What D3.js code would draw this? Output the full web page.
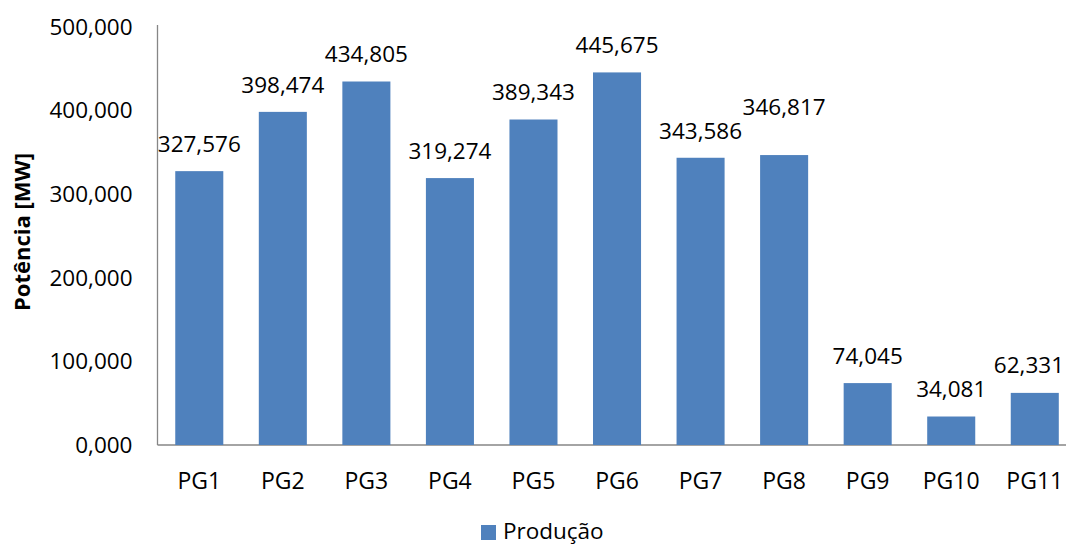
<!DOCTYPE html>
<html><head><meta charset="utf-8">
<script src="https://cdn.jsdelivr.net/npm/d3@7"></script>
<style>body{margin:0;background:#fff;} svg{display:block;font-family:"Open Sans",sans-serif;}</style>
</head><body>
<svg id="c" width="1066" height="547"></svg>
<script>
const categories = ["PG1","PG2","PG3","PG4","PG5","PG6","PG7","PG8","PG9","PG10","PG11"];
const values = [327.576,398.474,434.805,319.274,389.343,445.675,343.586,346.817,74.045,34.081,62.331];
const yTicks = [0,100,200,300,400,500];
const seriesName = "Produção";
const yTitle = "Potência [MW]";

const W = 1066;
const fmt = v => d3.format(".3f")(v).replace(".", ",");
const svg = d3.select("#c");
const left = 157.5, bandStep = 83.55;
const x = d3.scaleBand().domain(categories).range([left, left + bandStep*categories.length]).paddingInner(0.425).paddingOuter(0.2125);
const y = d3.scaleLinear().domain([0,500]).range([445,27]);
const color = "#4F81BD";
const fs = 22.5;

svg.append("line").attr("x1",left).attr("x2",left).attr("y1",y(500)-2).attr("y2",y(0)).attr("stroke","#868686").attr("stroke-width",1.3);
svg.append("line").attr("x1",left).attr("x2",W).attr("y1",y(0)).attr("y2",y(0)).attr("stroke","#868686").attr("stroke-width",1.3);

const yAxis = d3.axisLeft(y).tickValues(yTicks).tickSize(0).tickPadding(0).tickFormat(fmt);
const gy = svg.append("g").attr("transform",`translate(${left-25},0)`).call(yAxis);
gy.select(".domain").remove();
gy.selectAll("text").attr("font-size",fs).attr("fill","#000").attr("font-family","Open Sans");

const xAxis = d3.axisBottom(x).tickSize(0).tickPadding(0);
const gx = svg.append("g").attr("transform",`translate(0,${y(0)+36})`).call(xAxis);
gx.select(".domain").remove();
gx.selectAll("text").attr("font-size",23).attr("fill","#000").attr("font-family","Open Sans").attr("dy","0.35em");

svg.append("g").selectAll("rect").data(values).join("rect")
  .attr("x",(d,i)=>x(categories[i])).attr("width",x.bandwidth())
  .attr("y",d=>y(d)).attr("height",d=>y(0)-y(d)).attr("fill",color);

// data labels with simple collision avoidance (like the reference)
const labels = svg.append("g").selectAll("text").data(values).join("text")
  .attr("x",(d,i)=>x(categories[i])+x.bandwidth()/2)
  .attr("dy","0.35em").attr("text-anchor","middle").attr("font-size",fs).attr("fill","#000")
  .text(d=>fmt(d));
let prev = null;
labels.each(function(d,i){
  let cy = y(d)-27;
  const el = d3.select(this);
  el.attr("y",cy);
  let bb = this.getBBox();
  if (bb.x + bb.width > W - 2) {
    el.attr("x", +el.attr("x") - (bb.x + bb.width - (W - 2)));
    bb = this.getBBox();
  }
  if (prev && bb.x < prev.x + prev.width + 8 && Math.abs(cy - prev.cy) < 26) {
    cy = prev.cy - 24;
    el.attr("y",cy);
  }
  prev = {x:bb.x, width:bb.width, cy:cy};
});

svg.append("text").attr("transform",`translate(22,232) rotate(-90)`).attr("text-anchor","middle")
  .attr("dy","0.35em").attr("font-size",22).attr("font-weight","bold").text(yTitle);

const lg = svg.append("g");
lg.append("rect").attr("x",481).attr("y",525).attr("width",15).attr("height",15).attr("fill",color);
lg.append("text").attr("x",503).attr("y",531).attr("dy","0.35em").attr("font-size",fs).text(seriesName);
</script>
</body></html>
